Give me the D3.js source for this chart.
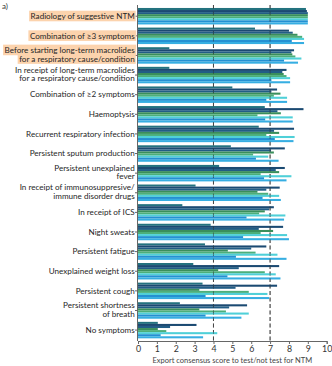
<!DOCTYPE html>
<html>
<head>
<meta charset="utf-8">
<script src="https://cdn.jsdelivr.net/npm/d3@7"></script>
<style>
  html, body { margin: 0; padding: 0; background: #fff; }
  svg { display: block; font-family: Lato, "Open Sans", sans-serif; }
</style>
</head>
<body>
<svg id="chart" width="332" height="366"></svg>
<script>
// Statements scored by the expert panel (top to bottom); "\n" splits a label over two lines
const categories = [
  "Radiology of suggestive NTM",
  "Combination of \u22653 symptoms",
  "Before starting long-term macrolides\nfor a respiratory cause/condition",
  "In receipt of long-term macrolides\nfor a respiratory cause/condition",
  "Combination of \u22652 symptoms",
  "Haemoptysis",
  "Recurrent respiratory infection",
  "Persistent sputum production",
  "Persistent unexplained\nfever",
  "In receipt of immunosuppresive/\nimmune disorder drugs",
  "In receipt of ICS",
  "Night sweats",
  "Persistent fatigue",
  "Unexplained weight loss",
  "Persistent cough",
  "Persistent shortness\nof breath",
  "No symptoms"
];

// Statements with a highlighted label
const highlighted = [
  "Radiology of suggestive NTM",
  "Combination of \u22653 symptoms",
  "Before starting long-term macrolides\nfor a respiratory cause/condition"
];

// Consensus score per statement, one array per panel group
const group1 = [8.9, 6.2, 1.66, 1.66, 5.0, 6.72, 6.4, 4.92, 4.3, 3.05, 2.35, 3.85, 3.55, 2.93, 3.42, 2.22, 1.05];
const group2 = [8.95, 8.0, 8.27, 7.87, 7.37, 8.77, 8.27, 7.78, 7.78, 7.51, 7.2, 7.69, 6.8, 7.48, 7.37, 5.78, 3.1];
const group3 = [9.0, 8.2, 8.13, 7.65, 7.07, 7.39, 7.21, 7.05, 7.3, 6.8, 6.95, 6.4, 6.0, 5.34, 5.17, 4.83, 1.7];
const group4 = [9.0, 8.45, 8.18, 7.72, 7.55, 7.57, 7.48, 7.2, 7.48, 6.33, 6.72, 7.16, 4.76, 4.25, 3.25, 3.25, 1.05];
const group5 = [9.0, 8.7, 8.34, 7.87, 7.2, 6.33, 6.8, 6.1, 6.5, 6.9, 6.42, 6.5, 6.23, 6.72, 5.87, 4.66, 1.5];
const group6 = [9.0, 8.8, 8.66, 8.06, 7.9, 8.2, 8.3, 6.9, 8.13, 7.48, 7.81, 7.9, 7.39, 7.3, 6.86, 5.87, 4.2];
const group7 = [9.0, 8.15, 7.74, 7.07, 6.8, 6.74, 7.25, 6.25, 6.68, 6.6, 5.75, 5.57, 5.19, 4.74, 3.58, 3.58, 1.2];
const group8 = [9.0, 8.8, 8.48, 8.06, 7.9, 8.2, 8.24, 7.45, 7.87, 7.57, 7.74, 8.0, 7.87, 7.55, 6.95, 5.48, 3.45];

const seriesNames = ["g1", "g2", "g3", "g4", "g5", "g6", "g7", "g8"];
const seriesValues = [group1, group2, group3, group4, group5, group6, group7, group8];
const seriesColors = ["#23727f", "#1b4a72", "#225d86", "#3a8f5c", "#4caf7a", "#4fd0d8", "#2490d2", "#36aee2"];

const xTicks = [0, 1, 2, 3, 4, 5, 6, 7, 8, 9, 10];
const referenceLines = [4, 7];
const xTitle = "Export consensus score to test/not test for NTM";
const panelTag = "a)";

const svg = d3.select("#chart");
const plotLeft = 138, plotRight = 326.7, axisY = 341, plotTop = 5;

const x = d3.scaleLinear().domain([0, 10]).range([plotLeft, plotRight]);
const y = d3.scaleBand().domain(categories).range([6.4, 339.9]).paddingInner(0.16).paddingOuter(0.08);
const ySub = d3.scaleBand().domain(seriesNames).range([0, y.bandwidth()]);
const color = d3.scaleOrdinal().domain(seriesNames).range(seriesColors);

// dashed reference lines
svg.append("g").selectAll("line").data(referenceLines).join("line")
  .attr("x1", d => x(d)).attr("x2", d => x(d))
  .attr("y1", plotTop).attr("y2", axisY)
  .attr("stroke", "#444").attr("stroke-width", 0.9).attr("stroke-dasharray", "4,2.5");

// bars
const rows = categories.map((c, i) => ({ c, vals: seriesNames.map((s, j) => ({ s, v: seriesValues[j][i] })) }));
svg.append("g").selectAll("g").data(rows).join("g")
  .attr("transform", d => `translate(0,${y(d.c)})`)
  .selectAll("rect").data(d => d.vals).join("rect")
  .attr("x", x(0))
  .attr("y", d => ySub(d.s))
  .attr("width", d => x(d.v) - x(0))
  .attr("height", ySub.bandwidth())
  .attr("fill", d => color(d.s));

// reference lines drawn again faintly over the bars
svg.append("g").selectAll("line").data(referenceLines).join("line")
  .attr("x1", d => x(d)).attr("x2", d => x(d))
  .attr("y1", plotTop).attr("y2", axisY)
  .attr("stroke", "#333").attr("stroke-opacity", 0.55).attr("stroke-width", 0.9).attr("stroke-dasharray", "4,2.5");

// y axis with wrapped labels
const yAxis = svg.append("g").attr("transform", `translate(${plotLeft},0)`)
  .call(d3.axisLeft(y).tickSize(3).tickFormat(""));
yAxis.select(".domain").attr("stroke", "#666").attr("d", `M-0.5,${plotTop}V${axisY}`);
yAxis.selectAll(".tick line").attr("stroke", "#666");

const labelG = svg.append("g").attr("font-size", 8.1);
categories.forEach(c => {
  const lines = c.split("\n");
  const cy = y(c) + y.bandwidth() / 2;
  const lh = 8.6;
  lines.forEach((ln, k) => {
    const ty = cy + (k - (lines.length - 1) / 2) * lh + 2.8 - (lines.length > 1 ? 1 : 0);
    const t = labelG.append("text").attr("x", plotLeft - 3.3).attr("y", ty)
      .attr("text-anchor", "end").attr("fill", "#262626").text(ln);
    if (highlighted.includes(c)) {
      const bb = t.node().getBBox();
      labelG.insert("rect", "text")
        .attr("x", bb.x - 1.5).attr("y", bb.y - 0.3)
        .attr("width", bb.width + 2.5).attr("height", bb.height + 0.6)
        .attr("fill", "#fcd3ad");
    }
  });
});

// x axis
const xAxis = svg.append("g").attr("transform", `translate(0,${axisY})`)
  .call(d3.axisBottom(x).tickValues(xTicks).tickSize(3).tickFormat(d3.format("d")));
xAxis.select(".domain").attr("stroke", "#666");
xAxis.selectAll(".tick line").attr("stroke", "#666");
xAxis.selectAll(".tick text").attr("font-size", 8.8).attr("fill", "#333").attr("font-family", "Lato, sans-serif").attr("dy", "0.6em");

svg.append("text").attr("x", (plotLeft + plotRight) / 2).attr("y", 363)
  .attr("text-anchor", "middle").attr("font-size", 7.5).attr("fill", "#444").text(xTitle);

svg.append("text").attr("x", 2).attr("y", 9).attr("font-size", 8).attr("fill", "#333").text(panelTag);
</script>
</body>
</html>
